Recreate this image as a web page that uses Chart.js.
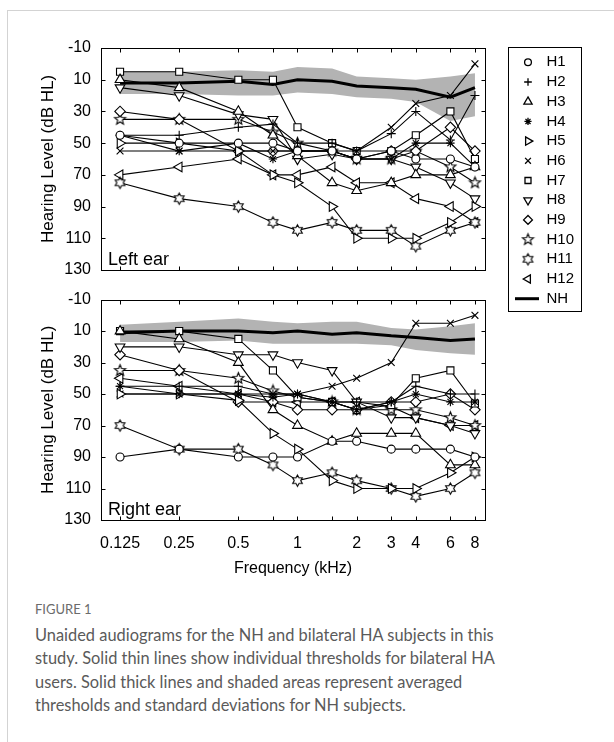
<!DOCTYPE html>
<html>
<head>
<meta charset="utf-8">
<script src="https://cdn.jsdelivr.net/npm/chart.js@4.4.0/dist/chart.umd.min.js"></script>
<style>
  body { margin: 0; background: #fff; width: 614px; height: 742px; overflow: hidden; position: relative; }
  #frame { position: absolute; left: 7px; top: 10px; right: 0; bottom: 0; border-left: 1px solid #d3d3d3; border-top: 1px solid #d3d3d3; }
  #topChart { position: absolute; left: 0; top: 0; }
  #bottomChart { position: absolute; left: 0; top: 280px; }
  #figLabel { position: absolute; left: 35px; top: 601px; font-family: Lato, sans-serif; font-size: 13px; color: #6b6b6b; }
  #caption { position: absolute; left: 35px; top: 623px; white-space: nowrap; font-family: Lato, sans-serif; font-size: 16.4px; line-height: 23.3px; color: #5a5a5a; }
</style>
</head>
<body>
<div id="frame"></div>
<canvas id="topChart" width="614" height="320"></canvas>
<canvas id="bottomChart" width="614" height="300"></canvas>
<div id="figLabel">FIGURE 1</div>
<div id="caption">Unaided audiograms for the NH and bilateral HA subjects in this<br>study. Solid thin lines show individual thresholds for bilateral HA<br>users. Solid thick lines and shaded areas represent averaged<br>thresholds and standard deviations for NH subjects.</div>

<script>
// frequencies (kHz) and tick labels
const freqs = [0.125, 0.25, 0.5, 0.75, 1, 1.5, 2, 3, 4, 6, 8];
const xTickLabels = ['0.125', '0.25', '0.5', '', '1', '', '2', '3', '4', '6', '8'];
const yTicks = [-10, 10, 30, 50, 70, 90, 110, 130];
const subjects = ['H1', 'H2', 'H3', 'H4', 'H5', 'H6', 'H7', 'H8', 'H9', 'H10', 'H11', 'H12'];

// left ear thresholds (dB HL)
const leftH1  = [45, 50, 50, 50, 55, 55, 60, 55, 60, 60, 65];
const leftH2  = [45, 45, 40, 38, 50, 50, 55, 44, 30, 48, 20];
const leftH3  = [10, 15, 30, 45, 58, 75, 80, 75, 70, 70, 65];
const leftH4  = [45, 55, 50, 60, 55, 55, 60, 60, 50, 50, 65];
const leftH5  = [50, 50, 55, 70, 75, 90, 110, 110, 110, 100, 90];
const leftH6  = [55, 55, 55, 55, 55, 55, 55, 40, 25, 20, 0];
const leftH7  = [5, 5, 10, 10, 40, 50, 55, 55, 45, 30, 60];
const leftH8  = [15, 20, 32, 35, 60, 57, 60, 60, 65, 75, 85];
const leftH9  = [30, 35, 55, 55, 55, 55, 60, 55, 55, 40, 55];
const leftH10 = [35, 35, 35, 43, 50, 55, 60, 60, 55, 65, 75];
const leftH11 = [75, 85, 90, 100, 105, 100, 105, 105, 115, 105, 100];
const leftH12 = [70, 65, 60, 70, 70, 65, 75, 75, 85, 90, 100];
const leftNH      = [12, 12, 11, 13, 10, 11, 14, 15, 16, 21, 15];
const leftNHUpper = [5, 5, 4, 5, 2, 3, 8, 9, 10, 8, 6];
const leftNHLower = [19, 19, 20, 20, 18, 19, 21, 22, 24, 36, 33];

// right ear thresholds (dB HL)
const rightH1  = [90, 85, 90, 90, 90, 80, 80, 85, 85, 85, 90];
const rightH2  = [45, 45, 45, 50, 50, 55, 55, 55, 45, 50, 50];
const rightH3  = [10, 15, 30, 60, 70, 80, 75, 75, 75, 95, 95];
const rightH4  = [45, 50, 50, 52, 50, 55, 60, 55, 50, 55, 55];
const rightH5  = [50, 50, 54, 75, 85, 105, 110, 110, 110, 100, 90];
const rightH6  = [50, 50, 50, 50, 50, 45, 40, 30, 5, 5, 0];
const rightH7  = [10, 10, 15, 35, 52, 55, 60, 57, 40, 35, 56];
const rightH8  = [20, 20, 25, 25, 30, 35, 55, 65, 65, 70, 75];
const rightH9  = [25, 35, 55, 55, 60, 60, 60, 55, 55, 50, 60];
const rightH10 = [35, 35, 40, 48, 52, 55, 60, 60, 60, 65, 70];
const rightH11 = [70, 85, 85, 95, 105, 100, 105, 110, 115, 110, 100];
const rightH12 = [40, 45, 50, 55, 55, 55, 55, 58, 65, 70, 70];
const rightNH      = [11, 10, 10, 11, 10, 12, 11, 13, 14, 16, 15];
const rightNHUpper = [6, 4, 2, 4, 5, 4, 4, 8, 9, 7, 5];
const rightNHLower = [17, 17, 16, 18, 18, 18, 18, 19, 22, 24, 25];

const leftSeries = [leftH1, leftH2, leftH3, leftH4, leftH5, leftH6, leftH7, leftH8, leftH9, leftH10, leftH11, leftH12];
const rightSeries = [rightH1, rightH2, rightH3, rightH4, rightH5, rightH6, rightH7, rightH8, rightH9, rightH10, rightH11, rightH12];

const FONT = '"Liberation Sans", Arial, sans-serif';

// custom star markers (white filled, black outline)
function starMarker(points, outer, inner) {
    var size = Math.ceil(outer * 2 + 3);
    var c = document.createElement('canvas');
    c.width = size; c.height = size;
    var g = c.getContext('2d');
    g.translate(size / 2, size / 2);
    g.beginPath();
    for (var i = 0; i < points * 2; i++) {
        var r = i % 2 === 0 ? outer : inner;
        var a = -Math.PI / 2 + i * Math.PI / points;
        g.lineTo(r * Math.cos(a), r * Math.sin(a));
    }
    g.closePath();
    g.fillStyle = '#fff'; g.fill();
    g.strokeStyle = '#000'; g.lineWidth = 1.1; g.stroke();
    return c;
}
const star5 = starMarker(5, 5.8, 2.5);
const star6 = starMarker(6, 5.6, 3.2);

// [style, rotation, radius]
const markers = [
    ['circle', 0, 4], ['cross', 0, 4.5], ['triangle', 0, 5.6], ['star', 0, 4.2], ['triangle', 90, 5.6], ['crossRot', 0, 4.8],
    ['rect', 0, 5], ['triangle', 180, 5.6], ['rectRot', 0, 5.2], [star5, 0, 5], [star6, 0, 5], ['triangle', 270, 5.6]
];

function toPoints(vals) {
    return freqs.map(function (f, j) { return { x: f, y: vals[j] }; });
}

function makeDatasets(series, nh, upper, lower) {
    var ds = series.map(function (vals, i) {
        return {
            label: subjects[i],
            data: toPoints(vals),
            borderColor: '#000', borderWidth: 1.1, tension: 0, fill: false,
            pointStyle: markers[i][0], pointRotation: markers[i][1],
            pointRadius: markers[i][2], pointBorderWidth: 1.1,
            pointBackgroundColor: '#fff', pointBorderColor: '#000',
            order: 1
        };
    });
    ds.push({ label: 'NH', data: toPoints(nh), borderColor: '#000', borderWidth: 3, pointRadius: 0, fill: false, order: 2 });
    ds.push({ label: 'NH+SD', data: toPoints(upper), borderWidth: 0, pointRadius: 0, backgroundColor: '#b3b3b3', fill: '+1', order: 3 });
    ds.push({ label: 'NH-SD', data: toPoints(lower), borderWidth: 0, pointRadius: 0, fill: false, order: 3 });
    return ds;
}

// box, inward ticks and ear label
const framePlugin = {
    id: 'frame',
    afterDatasetsDraw: function (chart, args, opts) {
        var ctx = chart.ctx, a = chart.chartArea, x = chart.scales.x, y = chart.scales.y;
        var l = Math.round(a.left) + 0.5, r = Math.round(a.right) + 0.5;
        var t = Math.round(a.top) + 0.5, b = Math.round(a.bottom) + 0.5;
        ctx.save();
        ctx.strokeStyle = '#000';
        ctx.lineWidth = 1;
        ctx.strokeRect(l, t, r - l, b - t);
        ctx.beginPath();
        freqs.forEach(function (f) {
            var px = Math.round(x.getPixelForValue(f)) + 0.5;
            ctx.moveTo(px, t); ctx.lineTo(px, t + 4);
            ctx.moveTo(px, b); ctx.lineTo(px, b - 4);
        });
        yTicks.forEach(function (v) {
            var py = Math.round(y.getPixelForValue(v)) + 0.5;
            ctx.moveTo(l, py); ctx.lineTo(l + 4, py);
            ctx.moveTo(r, py); ctx.lineTo(r - 4, py);
        });
        ctx.stroke();
        ctx.fillStyle = '#000';
        ctx.font = '18px ' + FONT;
        ctx.textBaseline = 'alphabetic';
        ctx.fillText(opts.ear, a.left + 7, a.bottom - 5);
        ctx.restore();
    }
};

// boxed legend to the right of the upper panel
const sideLegend = {
    id: 'sideLegend',
    afterDraw: function (chart, args, opts) {
        if (!opts.show) return;
        var ctx = chart.ctx;
        ctx.save();
        ctx.fillStyle = '#fff';
        ctx.fillRect(508.5, 47.5, 73, 264);
        ctx.strokeStyle = '#000';
        ctx.lineWidth = 1;
        ctx.strokeRect(508.5, 47.5, 73, 264);
        ctx.font = '15px ' + FONT;
        ctx.textBaseline = 'middle';
        chart.data.datasets.slice(0, 13).forEach(function (ds, i) {
            var cy = 62.3 + i * 19.7;
            if (ds.label === 'NH') {
                ctx.strokeStyle = '#000';
                ctx.lineWidth = 3;
                ctx.beginPath(); ctx.moveTo(515, cy); ctx.lineTo(539, cy); ctx.stroke();
            } else {
                ctx.fillStyle = '#fff';
                ctx.strokeStyle = '#000';
                ctx.lineWidth = 1.3;
                Chart.helpers.drawPoint(ctx, { pointStyle: ds.pointStyle, rotation: ds.pointRotation, radius: ds.pointRadius * 0.85, borderWidth: 1.3 }, 528, cy);
            }
            ctx.fillStyle = '#000';
            ctx.fillText(ds.label, 546.5, cy);
        });
        ctx.restore();
    }
};

function makeChart(canvasId, series, nh, upper, lower, ear, showX, padTop, xHeight) {
    return new Chart(document.getElementById(canvasId), {
        type: 'line',
        data: { datasets: makeDatasets(series, nh, upper, lower) },
        plugins: [framePlugin, sideLegend],
        options: {
            responsive: false,
            animation: false,
            devicePixelRatio: 1,
            layout: { padding: { left: 38, top: padTop, right: 129, bottom: 0 } },
            plugins: {
                legend: { display: false },
                tooltip: { enabled: false },
                frame: { ear: ear },
                sideLegend: { show: !showX }
            },
            scales: {
                x: {
                    type: 'logarithmic', min: 0.1, max: 9, bounds: 'data',
                    grid: { display: false, drawTicks: false }, border: { display: false },
                    afterBuildTicks: function (s) { s.ticks = freqs.map(function (v) { return { value: v }; }); },
                    afterFit: function (s) { s.height = xHeight; },
                    ticks: {
                        display: showX, autoSkip: false, maxRotation: 0, padding: 14, color: '#000',
                        font: { family: FONT, size: 16 },
                        callback: function (v, i) { return xTickLabels[i]; }
                    },
                    title: { display: showX, text: 'Frequency (kHz)', color: '#000', font: { family: FONT, size: 16 }, padding: { top: 0, bottom: 2 } }
                },
                y: {
                    type: 'linear', reverse: true, min: -10, max: 130,
                    grid: { display: false, drawTicks: false }, border: { display: false },
                    afterBuildTicks: function (s) { s.ticks = yTicks.map(function (v) { return { value: v }; }); },
                    afterFit: function (s) { s.width = 63; },
                    ticks: { color: '#000', padding: 10, font: { family: FONT, size: 16 } },
                    title: { display: true, text: 'Hearing Level (dB HL)', color: '#000', font: { family: FONT, size: 17 }, padding: { top: 0, bottom: 0 } }
                }
            }
        }
    });
}

makeChart('topChart', leftSeries, leftNH, leftNHUpper, leftNHLower, 'Left ear', false, 48, 50);
makeChart('bottomChart', rightSeries, rightNH, rightNHUpper, rightNHLower, 'Right ear', true, 18, 60);
</script>
</body>
</html>
